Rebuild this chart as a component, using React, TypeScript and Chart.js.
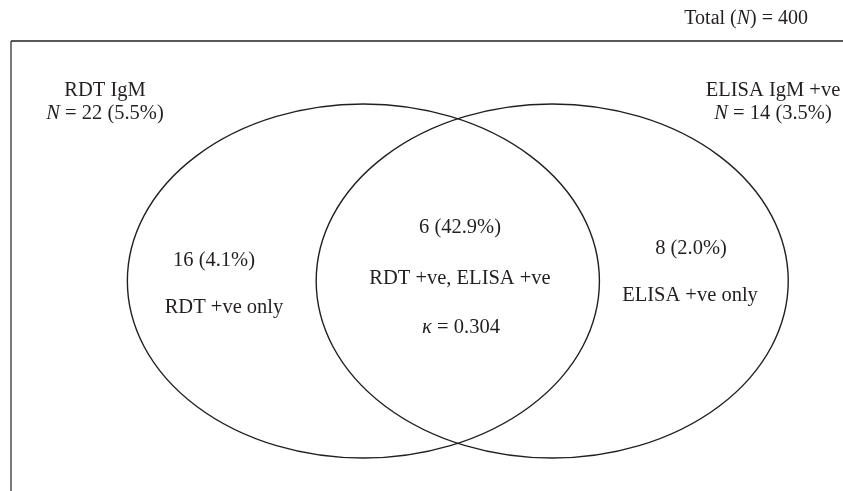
import React, { useEffect, useRef } from "react";
import { Chart, registerables } from "chart.js";

Chart.register(...registerables);

const setNames = ["RDT IgM", "ELISA IgM +ve"];
const setCounts = [22, 14];
const setPercents = ["5.5", "3.5"];
const regionNames = ["RDT +ve only", "RDT +ve, ELISA +ve", "ELISA +ve only"];
const regionCounts = [16, 6, 8];
const regionPercents = ["4.1", "42.9", "2.0"];
const totalN = 400;
const kappa = "0.304";

type Seg = { t: string; i?: boolean };

const FONT = "Liberation Serif";
const COLOR = "#231f20";

function drawRich(ctx: CanvasRenderingContext2D, segs: Seg[], x: number, y: number, size: number, align: "center" | "right") {
  const fontFor = (s: Seg) => `${s.i ? "italic " : ""}${size}px "${FONT}"`;
  let total = 0;
  const widths = segs.map((s) => {
    ctx.font = fontFor(s);
    const w = ctx.measureText(s.t).width;
    total += w;
    return w;
  });
  let cx = align === "center" ? x - total / 2 : x - total;
  ctx.textAlign = "left";
  ctx.textBaseline = "alphabetic";
  segs.forEach((s, k) => {
    ctx.font = fontFor(s);
    ctx.fillText(s.t, cx, y);
    cx += widths[k];
  });
}

const vennPlugin = {
  id: "venn",
  afterDraw(chart: any) {
    const { ctx, chartArea: a, scales } = chart;
    const xs = scales.x;
    const ys = scales.y;
    ctx.save();
    ctx.strokeStyle = COLOR;
    // frame
    ctx.lineWidth = 1.2;
    ctx.beginPath();
    ctx.moveTo(a.left, a.bottom);
    ctx.lineTo(a.left, a.top);
    ctx.stroke();
    ctx.lineWidth = 1.6;
    ctx.beginPath();
    ctx.moveTo(a.left, a.top);
    ctx.lineTo(a.right, a.top);
    ctx.stroke();
    // ellipses (unit radius in data space)
    ctx.lineWidth = 1.4;
    const ds = chart.data.datasets[0].data as { x: number; y: number }[];
    chart.getDatasetMeta(0).data.forEach((pt: any, i: number) => {
      const raw = ds[i];
      const rx = xs.getPixelForValue(raw.x + 1) - pt.x;
      const ry = pt.y - ys.getPixelForValue(raw.y + 1);
      ctx.beginPath();
      ctx.ellipse(pt.x, pt.y, rx, ry, 0, 0, Math.PI * 2);
      ctx.stroke();
    });

    ctx.fillStyle = COLOR;
    const S = 20.5;
    drawRich(ctx, [{ t: "Total (" }, { t: "N", i: true }, { t: `) = ${totalN}` }], 808, 24, 20, "right");

    drawRich(ctx, [{ t: setNames[0] }], 105, 96, S, "center");
    drawRich(ctx, [{ t: "N", i: true }, { t: ` = ${setCounts[0]} (${setPercents[0]}%)` }], 105, 119, S, "center");
    drawRich(ctx, [{ t: setNames[1] }], 773, 96, S, "center");
    drawRich(ctx, [{ t: "N", i: true }, { t: ` = ${setCounts[1]} (${setPercents[1]}%)` }], 773, 119, S, "center");

    drawRich(ctx, [{ t: `${regionCounts[0]} (${regionPercents[0]}%)` }], 214, 266, S, "center");
    drawRich(ctx, [{ t: regionNames[0] }], 224, 313, S, "center");

    drawRich(ctx, [{ t: `${regionCounts[1]} (${regionPercents[1]}%)` }], 460, 233, S, "center");
    drawRich(ctx, [{ t: regionNames[1] }], 460, 284, S, "center");
    drawRich(ctx, [{ t: "\u03BA", i: true }, { t: ` = ${kappa}` }], 461, 333, S, "center");

    drawRich(ctx, [{ t: `${regionCounts[2]} (${regionPercents[2]}%)` }], 691, 254, S, "center");
    drawRich(ctx, [{ t: regionNames[2] }], 690, 301, S, "center");
    ctx.restore();
  },
};

export default function App() {
  const ref = useRef<HTMLCanvasElement | null>(null);
  useEffect(() => {
    if (!ref.current) return;
    const chart = new Chart(ref.current, {
      type: "scatter",
      data: {
        datasets: [
          {
            data: [
              { x: -0.4, y: 0 },
              { x: 0.4, y: 0 },
            ],
            pointRadius: 0,
            showLine: false,
          },
        ],
      },
      options: {
        animation: false,
        responsive: false,
        events: [],
        layout: { padding: { left: 11, top: 41, right: 0, bottom: 0 } },
        plugins: { legend: { display: false }, tooltip: { enabled: false }, title: { display: false } },
        scales: {
          x: { type: "linear", min: -1.893, max: 1.632, display: false },
          y: { type: "linear", min: -1.186, max: 1.356, display: false },
        },
      },
      plugins: [vennPlugin],
    });
    return () => chart.destroy();
  }, []);
  return (
    <div style={{ position: "fixed", left: 0, top: 0, width: 843, height: 491, background: "#fff" }}>
      <canvas ref={ref} width={843} height={491} />
    </div>
  );
}
